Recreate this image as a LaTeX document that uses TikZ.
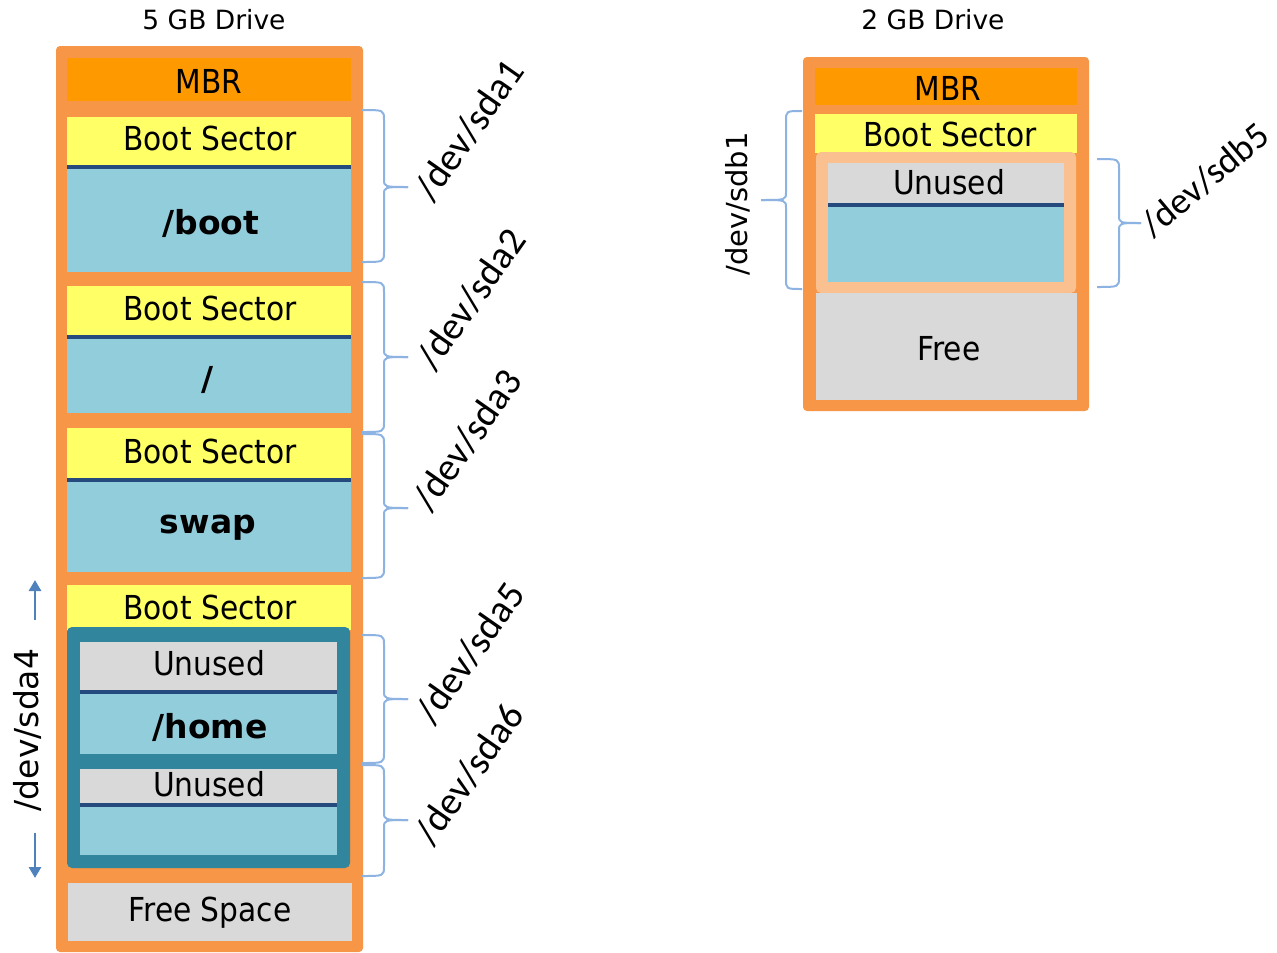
\documentclass[tikz,border=0pt]{standalone}
\usepackage{fontspec}
\setmainfont{DejaVu Sans}
\newfontfamily\condf[FakeStretch=0.9]{DejaVu Sans}
\newfontfamily\calib{Carlito}
\usetikzlibrary{arrows.meta}
\definecolor{orng}{HTML}{F79646}
\definecolor{mbrc}{HTML}{FF9900}
\definecolor{yel}{HTML}{FFFF66}
\definecolor{lblue}{HTML}{92CDDC}
\definecolor{dline}{HTML}{254A7D}
\definecolor{teal}{HTML}{31859C}
\definecolor{grey}{HTML}{D9D9D9}
\definecolor{peach}{HTML}{FAC090}
\definecolor{brcc}{HTML}{8DB3E2}
\definecolor{arrc}{HTML}{4F81BD}
\newcommand\bracedraw[6]{%
 \draw[brc] (#1,#4) .. controls (#2,#4) .. (#2,#4+10) -- (#2,#5-8) .. controls (#2,#5) .. (#3,#5);
 \draw[brc] (#3,#5) .. controls (#2,#5) .. (#2,#5+8) -- (#2,#6-10) .. controls (#2,#6) .. (#1,#6);}
\tikzset{
 lbl/.style={font=\condf\fontsize{33}{36}\selectfont, inner sep=0pt, text=black},
 bld/.style={font=\bfseries\fontsize{33}{36}\selectfont, inner sep=0pt},
 ttl/.style={font=\fontsize{26.5}{30}\selectfont, inner sep=0pt},
 part/.style={font=\calib\fontsize{39}{44}\selectfont, rotate=55, inner sep=0pt},
 brc/.style={draw=brcc, line width=2pt},
 arr/.style={draw=arrc, line width=2.8pt, -{Triangle[width=12pt,length=11pt]}}
}
\begin{document}
\begin{tikzpicture}[x=1pt,y=-1pt]
\useasboundingbox (0,0) rectangle (1277,953);
% ---------- left drive ----------
\fill[orng, rounded corners=4pt] (56,46) rectangle (363,952);
\fill[mbrc] (67,58) rectangle (351,101);
% partition 1
\fill[yel] (67,117) rectangle (351,166);
\fill[lblue] (67,166) rectangle (351,272);
\fill[dline] (67,165) rectangle (351,169);
% partition 2
\fill[yel] (67,286) rectangle (351,336);
\fill[lblue] (67,336) rectangle (351,413);
\fill[dline] (67,335) rectangle (351,339);
% partition 3
\fill[yel] (67,428) rectangle (351,479);
\fill[lblue] (67,479) rectangle (351,572);
\fill[dline] (67,478) rectangle (351,482);
% partition 4 (extended)
\fill[yel] (67,585) rectangle (351,630);
\fill[teal, rounded corners=5pt] (67,627) rectangle (350,868);
\fill[grey] (80,642) rectangle (337,691);
\fill[lblue] (80,691) rectangle (337,754);
\fill[dline] (80,690) rectangle (337,694);
\fill[grey] (80,769) rectangle (337,804);
\fill[lblue] (80,804) rectangle (337,855);
\fill[dline] (80,803) rectangle (337,807);
% free space
\fill[grey] (68,883) rectangle (352,941);

\node[lbl] (mbr1) at (209,81) {MBR};
\node[lbl] (bs1) at (210,138) {Boot Sector};
\node[bld] (boot) at (211,223) {/boot};
\node[lbl] (bs2) at (210,308) {Boot Sector};
\node[bld] (root) at (208,380) {/};
\node[lbl] (bs3) at (210,451) {Boot Sector};
\node[bld] (swap) at (208,528) {swap};
\node[lbl] (bs4) at (210,607) {Boot Sector};
\node[lbl] (un1) at (209,663) {Unused};
\node[bld] (home) at (210,727) {/home};
\node[lbl] (un2) at (209,784) {Unused};
\node[lbl] (free1) at (210,913) {Free Space};

\node[ttl] (t1) at (214,20) {5 GB Drive};

% braces left drive
\bracedraw{362}{384}{408}{110}{187}{262}
\bracedraw{362}{384}{408}{282}{357}{432}
\bracedraw{362}{384}{408}{434}{508}{578}
\bracedraw{362}{384}{408}{635}{699}{763}
\bracedraw{362}{384}{408}{765}{820}{876}

\node[part] (sda1) at (469,130) {/dev/sda1};
\node[part] (sda2) at (471,299) {/dev/sda2};
\node[part] (sda3) at (467,440) {/dev/sda3};
\node[part] (sda5) at (470,653) {/dev/sda5};
\node[part] (sda6) at (469,774) {/dev/sda6};

\node[font=\fontsize{33}{36}\selectfont, rotate=90, inner sep=0pt] (sda4) at (27,730) {/dev/sda4};
\coordinate (a4up) at (35,580);
\coordinate (a4dn) at (35,878);
\draw[arr] (35,620) -- (a4up);
\draw[arr] (35,833) -- (a4dn);

% ---------- right drive ----------
\fill[orng, rounded corners=4pt] (803,57) rectangle (1089,411);
\fill[mbrc] (815,68) rectangle (1077,105);
\fill[yel] (815,114) rectangle (1077,153);
\fill[peach, rounded corners=5pt] (816,152) rectangle (1076,293);
\fill[grey] (828,163) rectangle (1064,204);
\fill[lblue] (828,204) rectangle (1064,282);
\fill[dline] (828,203) rectangle (1064,207);
\fill[grey] (816,293) rectangle (1077,400);

\node[lbl] (mbr2) at (948,88) {MBR};
\node[lbl] (bs5) at (950,134) {Boot Sector};
\node[lbl] (un3) at (949,182) {Unused};
\node[lbl] (free2) at (949,349) {Free};

\node[ttl] (t2) at (933,20) {2 GB Drive};

\bracedraw{802}{786}{761}{111}{200}{289}
\bracedraw{1097}{1119}{1141}{159}{223}{287}

\node[font=\fontsize{29}{32}\selectfont, rotate=90, inner sep=0pt] (sdb1) at (738,204) {/dev/sdb1};
\node[part, font=\calib\fontsize{37}{40}\selectfont, rotate=-15] (sdb5) at (1205,180) {/dev/sdb5};
\end{tikzpicture}
\end{document}
